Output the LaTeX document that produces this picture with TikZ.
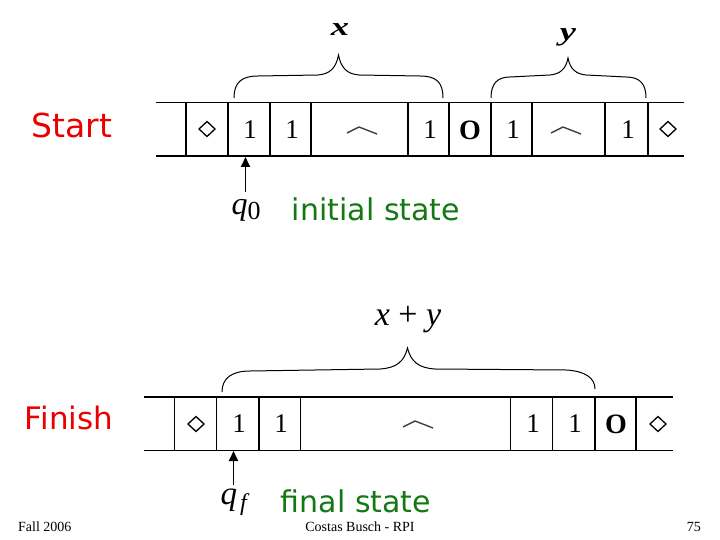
\documentclass[tikz,border=0pt]{standalone}
\usepackage{fontspec}
\setmainfont{Liberation Serif}
\newfontfamily\labelfont{DejaVu Sans}
\usetikzlibrary{arrows.meta}
\definecolor{slidered}{RGB}{235,0,0}
\definecolor{slidegreen}{RGB}{20,120,20}
\tikzset{
  tape/.style={line width=1.1pt},
  brace/.style={line width=1pt},
  sym/.style={inner sep=0pt, font=\fontsize{27}{27}\selectfont},
  bsym/.style={inner sep=0pt, font=\fontsize{28}{28}\selectfont\bfseries},
  arr/.style={line width=1.8pt, -{Triangle[length=10pt,width=9pt]}},
  side/.style={text=slidered, inner sep=0pt, font=\labelfont\fontsize{31}{31}\selectfont},
  state/.style={text=slidegreen, inner sep=0pt, font=\labelfont\fontsize{30}{30}\selectfont},
  foot/.style={inner sep=0pt, font=\fontsize{14}{14}\selectfont},
  diam/.pic={\draw[line width=1.3pt] (-8,0)--(0,-7.5)--(8,0)--(0,7.5)--cycle;},
  crt/.pic={\draw[line width=1.4pt, black!75, line join=round] (-15,2) -- (-3,-4) -- (15,3);}
}
\begin{document}
\begin{tikzpicture}[x=1pt,y=-1pt]
\useasboundingbox (0,0) rectangle (720,540);

% ---------- top tape ----------
\draw[tape] (156,102.5) -- (684,102.5);
\draw[tape] (156,156) -- (684,156);
\foreach \xx in {186,228,270,311,408,449,491,532,605,648}
  \draw[tape] (\xx,102.5) -- (\xx,156);
\pic at (207,129) {diam};
\node[sym] (t1) at (250,130) {1};
\node[sym] (t2) at (292,130) {1};
\pic at (362,131) {crt};
\node[sym] (t3) at (430,130) {1};
\node[bsym] (t0) at (470,130) {O};
\node[sym] (t4) at (513,130) {1};
\pic at (566,131) {crt};
\node[sym] (t5) at (628,130) {1};
\pic at (668,129) {diam};

% braces top
\draw[brace] (234,98) .. controls (234,82) and (242,76) .. (258,76) -- (318,75)
  .. controls (330,74) and (336,68) .. (338.5,55)
  .. controls (341,68) and (347,74) .. (359,75) -- (420,76)
  .. controls (436,76) and (443,82) .. (443,98);
\draw[brace] (491,98) .. controls (491,84) and (497,77) .. (510,77) -- (550,75)
  .. controls (560,74) and (566,69) .. (568,58)
  .. controls (570,69) and (576,74) .. (586,75) -- (626,77)
  .. controls (640,77) and (646,84) .. (646,98);
\node[inner sep=0pt, font=\fontsize{26}{26}\selectfont\bfseries\itshape, xscale=1.4] (lx) at (340,30) {x};
\node[inner sep=0pt, font=\fontsize{26}{26}\selectfont\bfseries\itshape, xscale=1.4] (ly) at (568,37) {y};

% start / initial
\node[side, font=\labelfont\fontsize{33}{33}\selectfont] (start) at (72,125) {Start};
\coordinate (a0s) at (245.5,192);
\coordinate (a0e) at (245.5,157);
\draw[arr] (a0s) -- (a0e);
\node[inner sep=0pt] (q0) at (246,210) {\fontsize{32}{32}\selectfont\textit{q}\raisebox{-5pt}{\fontsize{26}{26}\selectfont 0}};
\node[state] (init) at (376,209) {initial state};

% ---------- bottom tape ----------
\draw[tape] (144,397) -- (673,397);
\draw[tape] (144,450.5) -- (673,450.5);
\foreach \xx in {174.5,216.5,259,300.7,510.7,552.8,595,636}
  \draw[tape] (\xx,397) -- (\xx,450.5);
\pic at (196,424) {diam};
\node[sym] (b1) at (239,424) {1};
\node[sym] (b2) at (281,424) {1};
\pic at (418,425) {crt};
\node[sym] (b3) at (533,424) {1};
\node[sym] (b4) at (575,424) {1};
\node[bsym] (b0) at (616,424) {O};
\pic at (658,424) {diam};

% brace bottom
\draw[brace] (222,392) .. controls (222,378) and (232,371) .. (250,371) -- (380,369)
  .. controls (396,368) and (404,362) .. (407.5,348)
  .. controls (411,362) and (419,368) .. (435,369) -- (566,370)
  .. controls (585,371) and (595,378) .. (595,389);
\node[inner sep=0pt, font=\fontsize{34}{34}\selectfont] (lxy) at (408,320) {\textit{x} + \textit{y}};

% finish / final
\node[side] (finish) at (69,418) {Finish};
\coordinate (afs) at (233.5,485);
\coordinate (afe) at (233.5,451);
\draw[arr] (afs) -- (afe);
\node[inner sep=0pt] (qf) at (235,502) {\fontsize{33}{33}\selectfont\textit{q}\hspace{3pt}\raisebox{-6pt}{\fontsize{24}{24}\selectfont\textit{f}}};
\node[state] (final) at (356,501) {final state};

% footer
\node[foot, anchor=west] (fall) at (18,527) {Fall 2006};
\node[foot] (cb) at (360,527) {Costas Busch - RPI};
\node[foot, anchor=east] (pg) at (701,527) {75};
\end{tikzpicture}
\end{document}
